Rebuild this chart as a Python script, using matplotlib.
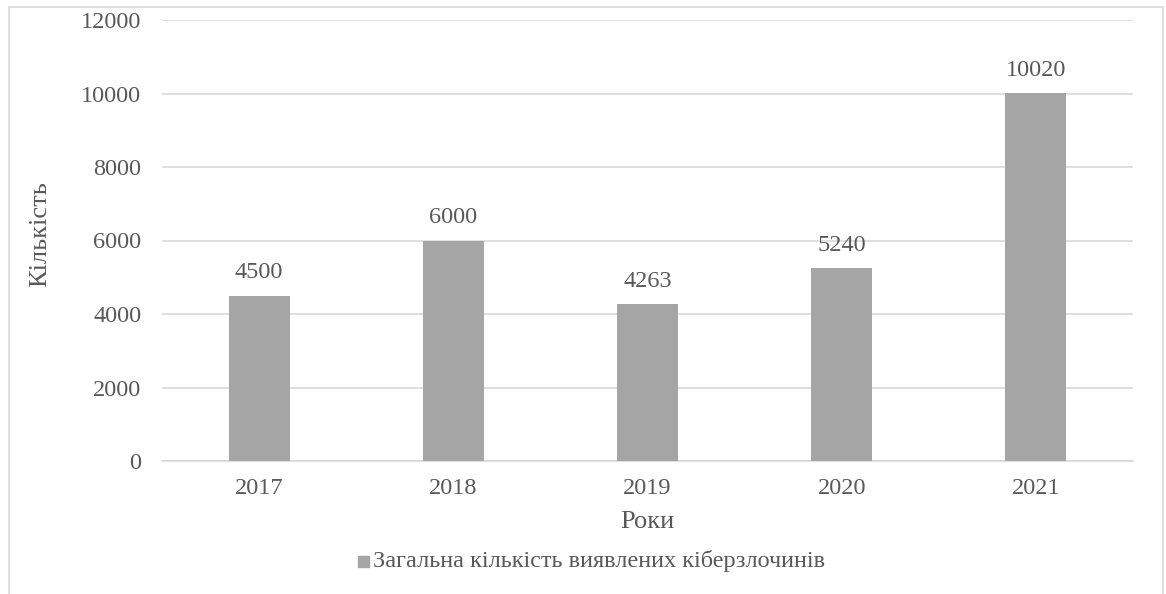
import matplotlib
matplotlib.use('Agg')
import matplotlib.pyplot as plt
from matplotlib.patches import Rectangle

years = ['2017', '2018', '2019', '2020', '2021']
counts = [4500, 6000, 4263, 5240, 10020]
series_name = 'Загальна кількість виявлених кіберзлочинів'

plt.rcParams['font.family'] = ['Liberation Serif', 'DejaVu Serif']
txt = '#595959'
grid = '#d9d9d9'
bar_color = '#a5a5a5'

W, H = 1166, 594
fig = plt.figure(figsize=(W / 100, H / 100), dpi=100)
ax = fig.add_axes([162 / W, 1 - 461 / H, (1133 - 162) / W, (461 - 20) / H])

# outer chart frame, runs off the bottom edge
fig.patches.append(Rectangle((9 / W, -0.05), (1163 - 9) / W, 1 - 7 / H + 0.05,
                             transform=fig.transFigure, fill=False,
                             edgecolor=grid, linewidth=1.2))

x = range(len(years))
bars = ax.bar(x, counts, width=0.315, color=bar_color, zorder=3)
for b, v in zip(bars, counts):
    ax.text(b.get_x() + b.get_width() / 2, v + 330, str(v), ha='center',
            va='bottom', fontsize=17.5, color=txt)

ax.set_xlim(-0.5, len(years) - 0.5)
ax.set_ylim(0, 12000)
ax.set_yticks(range(0, 12001, 2000))
ax.set_xticks(list(x))
ax.set_xticklabels(years)
ax.tick_params(length=0, labelsize=17.5, labelcolor=txt)
ax.tick_params(axis='y', pad=15)
ax.tick_params(axis='x', pad=12)
ax.yaxis.grid(True, color=grid, linewidth=1.2, zorder=0)
for s in ['top', 'right', 'left']:
    ax.spines[s].set_visible(False)
ax.spines['bottom'].set_color(grid)
ax.spines['bottom'].set_linewidth(1.2)

fig.text(40 / W, 1 - 234 / H, 'Кількість', rotation=90, ha='center',
         va='center', fontsize=19, color=txt)
fig.text(647 / W, 1 - 522 / H, 'Роки', ha='center', va='center',
         fontsize=19, color=txt)

# legend
fig.patches.append(Rectangle((358 / W, 1 - 567 / H), 11 / W, 11 / H,
                             transform=fig.transFigure, color=bar_color))
fig.text(373 / W, 1 - 561 / H, series_name, ha='left', va='center',
         fontsize=17.5, color=txt)

fig.savefig('out.png', dpi=100)
